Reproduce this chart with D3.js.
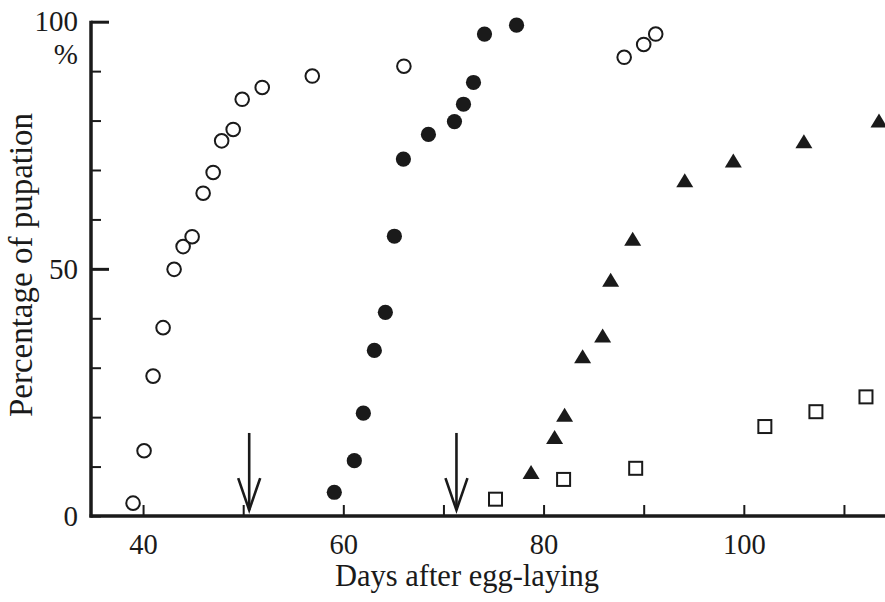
<!DOCTYPE html>
<html>
<head>
<meta charset="utf-8">
<script src="https://cdn.jsdelivr.net/npm/d3@7"></script>
<style>
  html, body { margin: 0; padding: 0; background: #fff; }
  svg { display: block; }
  text { font-family: "Liberation Serif", "Times New Roman", serif; fill: #1a1a1a; }
</style>
</head>
<body>
<svg id="chart" width="885" height="602"></svg>
<script>
// ---- data ----
const openCircleDays = [39.0, 40.1, 41.0, 42.0, 43.1, 44.0, 44.9, 46.0, 47.0, 47.85, 49.0, 49.9, 51.9, 56.9, 66.05, 88.05, 90.0, 91.2];
const openCirclePct  = [2.6, 13.2, 28.3, 38.1, 49.9, 54.5, 56.5, 65.3, 69.5, 75.9, 78.2, 84.3, 86.7, 89.0, 91.0, 92.8, 95.4, 97.5];

const filledCircleDays = [59.1, 61.1, 62.0, 63.1, 64.2, 65.1, 66.0, 68.5, 71.1, 72.0, 73.0, 74.1, 77.3];
const filledCirclePct  = [4.8, 11.2, 20.8, 33.5, 41.2, 56.6, 72.2, 77.2, 79.8, 83.3, 87.7, 97.5, 99.3];

const triangleDays = [78.75, 81.1, 82.1, 83.9, 85.9, 86.7, 88.9, 94.1, 98.95, 106.0, 113.5];
const trianglePct  = [8.8, 15.9, 20.4, 32.2, 36.4, 47.7, 56.0, 67.8, 71.8, 75.7, 79.9];

const squareDays = [75.2, 82.0, 89.2, 102.1, 107.2, 112.2];
const squarePct  = [3.4, 7.4, 9.65, 18.1, 21.1, 24.1];

const arrowDays = [50.6, 71.3];
const arrowFromPct = 16.8;
const arrowToPct = 1.2;

const xTickValues = [40, 50, 60, 70, 80, 90, 100, 110];
const xTickLabels = [40, 60, 80, 100];
const yTickValues = [0, 10, 20, 30, 40, 50, 60, 70, 80, 90, 100];
const yTickLabels = [0, 50, 100];
const yMajorTicks = [50, 100];

const xTitle = "Days after egg-laying";
const yTitle = "Percentage of pupation";
const yUnit = "%";

// ---- scales ----
const FONT = '"Liberation Serif", "Times New Roman", serif';
const svg = d3.select("#chart");
const x = d3.scaleLinear().domain([34.8, 114.1]).range([91, 885]);
const y = d3.scaleLinear().domain([0, 100]).range([516, 21.7]);
const ink = "#1a1a1a";

// ---- axes ----
const xAxis = d3.axisBottom(x)
  .tickValues(xTickValues)
  .tickSizeInner(-11)
  .tickSizeOuter(0)
  .tickPadding(18)
  .tickFormat(d => xTickLabels.includes(d) ? String(d) : "");
const gx = svg.append("g").attr("transform", `translate(0,${y(0)})`).call(xAxis)
  .attr("font-family", FONT);
gx.select(".domain").remove();
gx.selectAll(".tick line").attr("stroke", ink).attr("stroke-width", 2);
gx.selectAll(".tick text").attr("font-size", 28.5).attr("font-family", FONT).style("fill", ink);
svg.append("line")
  .attr("x1", x.range()[0] - 1.5).attr("x2", x.range()[1])
  .attr("y1", y(0)).attr("y2", y(0))
  .attr("stroke", ink).attr("stroke-width", 3.5);

const yAxis = d3.axisLeft(y)
  .tickValues(yTickValues)
  .tickSizeInner(-10)
  .tickSizeOuter(0)
  .tickPadding(13)
  .tickFormat(d => yTickLabels.includes(d) ? String(d) : "");
const gy = svg.append("g").attr("transform", `translate(${x.range()[0]},0)`).call(yAxis)
  .attr("font-family", FONT);
gy.select(".domain").remove();
gy.selectAll(".tick line")
  .attr("stroke", ink)
  .attr("x2", d => yMajorTicks.includes(d) ? 18 : 10)
  .attr("stroke-width", d => yMajorTicks.includes(d) ? 3 : 2);
gy.selectAll(".tick text").attr("font-size", 29).attr("font-family", FONT).style("fill", ink);
svg.append("line")
  .attr("x1", x.range()[0]).attr("x2", x.range()[0])
  .attr("y1", y(100) - 1).attr("y2", y(0) + 1.5)
  .attr("stroke", ink).attr("stroke-width", 3.5);

svg.append("text")
  .attr("x", x.range()[0] - 13).attr("y", y(100) + 42)
  .attr("text-anchor", "end").attr("font-size", 29).attr("font-family", FONT)
  .text(yUnit);

// ---- titles ----
svg.append("text")
  .attr("x", 467).attr("y", 586)
  .attr("text-anchor", "middle").attr("font-size", 30.5).attr("font-family", FONT)
  .text(xTitle);
svg.append("text")
  .attr("transform", `translate(32,265) rotate(-90)`)
  .attr("text-anchor", "middle").attr("font-size", 33).attr("font-family", FONT)
  .text(yTitle);

// ---- arrows ----
const arrows = svg.append("g").attr("stroke", ink).attr("stroke-width", 2.6).attr("fill", "none");
arrowDays.forEach(d => {
  const ax = x(d), y1 = y(arrowFromPct), y2 = y(arrowToPct);
  arrows.append("line").attr("x1", ax).attr("x2", ax).attr("y1", y1).attr("y2", y2);
  arrows.append("path").attr("d", `M${ax - 11},${y2 - 32} L${ax},${y2} L${ax + 11},${y2 - 32}`);
});

// ---- marks ----
const zip = (a, b) => a.map((v, i) => [v, b[i]]);

svg.append("g").selectAll("circle")
  .data(zip(openCircleDays, openCirclePct)).join("circle")
  .attr("cx", d => x(d[0])).attr("cy", d => y(d[1])).attr("r", 6.8)
  .attr("fill", "#fff").attr("stroke", ink).attr("stroke-width", 2);

svg.append("g").selectAll("circle")
  .data(zip(filledCircleDays, filledCirclePct)).join("circle")
  .attr("cx", d => x(d[0])).attr("cy", d => y(d[1])).attr("r", 7.6)
  .attr("fill", ink);

svg.append("g").selectAll("path")
  .data(zip(triangleDays, trianglePct)).join("path")
  .attr("d", d => {
    const cx = x(d[0]), cy = y(d[1]);
    return `M${cx - 8.5},${cy + 6.5} L${cx + 8.5},${cy + 6.5} L${cx},${cy - 7.5} Z`;
  })
  .attr("fill", ink);

svg.append("g").selectAll("rect")
  .data(zip(squareDays, squarePct)).join("rect")
  .attr("x", d => x(d[0]) - 6.5).attr("y", d => y(d[1]) - 6.5)
  .attr("width", 13).attr("height", 13)
  .attr("fill", "#fff").attr("stroke", ink).attr("stroke-width", 2);
</script>
</body>
</html>
